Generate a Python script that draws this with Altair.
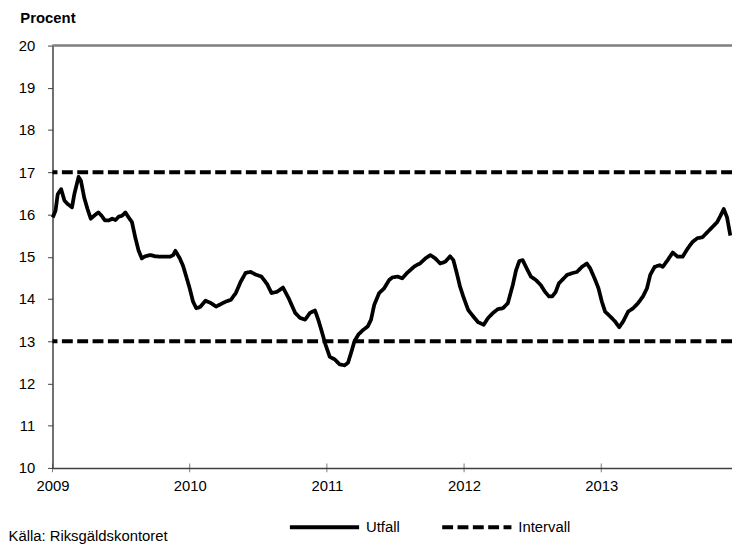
import altair as alt
import pandas as pd

# Utfall: share (procent); x as decimal year
years = [
    2009.002, 2009.022, 2009.038, 2009.063, 2009.087, 2009.110, 2009.142, 2009.159,
    2009.190, 2009.207, 2009.231, 2009.255, 2009.279, 2009.303, 2009.334, 2009.358,
    2009.382, 2009.411, 2009.435, 2009.459, 2009.483, 2009.507, 2009.531, 2009.555,
    2009.579, 2009.603, 2009.627, 2009.651, 2009.676, 2009.712, 2009.748, 2009.795,
    2009.856, 2009.880, 2009.896, 2009.928, 2009.952, 2009.975, 2010.000, 2010.024,
    2010.048, 2010.076, 2010.115, 2010.156, 2010.192, 2010.228, 2010.264, 2010.300,
    2010.336, 2010.372, 2010.408, 2010.444, 2010.480, 2010.523, 2010.565, 2010.596,
    2010.637, 2010.680, 2010.721, 2010.769, 2010.805, 2010.841, 2010.877, 2010.913,
    2010.937, 2010.961, 2010.990, 2011.021, 2011.057, 2011.093, 2011.129, 2011.154,
    2011.177, 2011.201, 2011.230, 2011.262, 2011.298, 2011.322, 2011.345, 2011.381,
    2011.417, 2011.454, 2011.478, 2011.514, 2011.550, 2011.586, 2011.634, 2011.682,
    2011.718, 2011.754, 2011.790, 2011.826, 2011.862, 2011.898, 2011.922, 2011.947,
    2011.970, 2011.994, 2012.030, 2012.066, 2012.102, 2012.143, 2012.175, 2012.211,
    2012.247, 2012.283, 2012.319, 2012.355, 2012.379, 2012.403, 2012.427, 2012.451,
    2012.487, 2012.523, 2012.559, 2012.590, 2012.619, 2012.643, 2012.668, 2012.691,
    2012.727, 2012.751, 2012.787, 2012.823, 2012.859, 2012.895, 2012.920, 2012.956,
    2012.980, 2013.004, 2013.028, 2013.064, 2013.100, 2013.131, 2013.160, 2013.196,
    2013.232, 2013.268, 2013.304, 2013.333, 2013.357, 2013.389, 2013.425, 2013.448,
    2013.484, 2013.521, 2013.557, 2013.593, 2013.629, 2013.665, 2013.701, 2013.737,
    2013.773, 2013.809, 2013.845, 2013.869, 2013.893, 2013.917, 2013.941,
]
utfall = [
    15.93, 16.09, 16.48, 16.60, 16.33, 16.25, 16.17, 16.48,
    16.89, 16.80, 16.40, 16.13, 15.90, 15.97, 16.05, 15.97,
    15.86, 15.86, 15.90, 15.87, 15.95, 15.97, 16.05, 15.93,
    15.82, 15.46, 15.15, 14.96, 15.01, 15.04, 15.01, 15.00,
    15.00, 15.04, 15.14, 14.96, 14.78, 14.53, 14.25, 13.94,
    13.78, 13.81, 13.96, 13.90, 13.82, 13.88, 13.94, 13.98,
    14.14, 14.41, 14.62, 14.64, 14.58, 14.53, 14.35, 14.14,
    14.17, 14.27, 14.02, 13.67, 13.55, 13.51, 13.67, 13.73,
    13.51, 13.25, 12.92, 12.63, 12.57, 12.45, 12.43, 12.49,
    12.73, 13.00, 13.16, 13.26, 13.35, 13.51, 13.86, 14.14,
    14.25, 14.45, 14.51, 14.53, 14.49, 14.62, 14.76, 14.85,
    14.96, 15.04, 14.96, 14.84, 14.88, 15.01, 14.92, 14.61,
    14.30, 14.06, 13.74, 13.59, 13.45, 13.39, 13.55, 13.67,
    13.76, 13.78, 13.90, 14.33, 14.68, 14.90, 14.92, 14.76,
    14.53, 14.45, 14.33, 14.17, 14.06, 14.06, 14.17, 14.37,
    14.49, 14.57, 14.61, 14.64, 14.76, 14.84, 14.72, 14.45,
    14.25, 13.94, 13.70, 13.59, 13.47, 13.33, 13.47, 13.70,
    13.78, 13.90, 14.06, 14.25, 14.57, 14.76, 14.80, 14.76,
    14.92, 15.10, 15.00, 15.00, 15.19, 15.35, 15.44, 15.46,
    15.58, 15.70, 15.82, 15.97, 16.13, 15.93, 15.50,
]
intervall = [17, 13]
tick_years = [2009, 2010, 2011, 2012, 2013]
y_ticks = [10, 11, 12, 13, 14, 15, 16, 17, 18, 19, 20]
series_names = ["Utfall", "Intervall"]

FONT = "Liberation Sans Narrow, Arial Narrow, Liberation Sans, Arial, sans-serif"
FS = 15
AXIS_COLOR = "#404040"

line_df = pd.DataFrame({"year": years, "value": utfall, "series": "Utfall"})
band_df = pd.DataFrame({"value": intervall, "series": "Intervall"})
tick_df = pd.DataFrame({"year": tick_years})

x_scale = alt.Scale(domain=[2009, 2013.953], nice=False, zero=False)
y_scale = alt.Scale(domain=[10, 20], nice=False, zero=False)

x_axis = alt.Axis(
    values=tick_years, format="d", ticks=False, grid=False,
    labelFlush=False, labelPadding=11, labelFontSize=FS, labelColor="black",
    domainColor=AXIS_COLOR, domainWidth=1.5,
    title="Källa: Riksgäldskontoret", titleFontSize=FS, titleFontWeight="normal",
    titleAlign="left", titleBaseline="alphabetic", titleX=-45, titleY=73,
    titleColor="black",
)
y_axis = alt.Axis(
    values=y_ticks, grid=False, tickSize=5, tickColor=AXIS_COLOR, tickWidth=1,
    labelPadding=13, labelFontSize=FS, labelColor="black",
    domainColor=AXIS_COLOR, domainWidth=1.5,
    title="Procent", titleAngle=0, titleFontSize=FS, titleFontWeight="bold",
    titleAlign="left", titleBaseline="alphabetic", titleX=-33, titleY=-23,
    titleColor="black",
)

legend = alt.Legend(
    orient="none", legendX=238, legendY=450, direction="horizontal", title=None,
    symbolType="stroke", symbolSize=4900, symbolStrokeWidth=4,
    labelFontSize=FS, labelColor="black", labelOffset=5, columnPadding=34,
)
color_enc = alt.Color("series:N", scale=alt.Scale(domain=series_names, range=["black", "black"]), legend=legend)
dash_enc = alt.StrokeDash("series:N", scale=alt.Scale(domain=series_names, range=[[1, 0], [11, 4.5]]), legend=legend)

x_enc = alt.X("year:Q", scale=x_scale, axis=x_axis)
y_enc = alt.Y("value:Q", scale=y_scale, axis=y_axis)

line = alt.Chart(line_df).mark_line(strokeWidth=3.8, strokeJoin="round").encode(
    x=x_enc, y=y_enc, color=color_enc, strokeDash=dash_enc
)
bands = alt.Chart(band_df).mark_rule(strokeWidth=4).encode(
    y=alt.Y("value:Q", scale=y_scale, axis=y_axis), color=color_enc, strokeDash=dash_enc
)
top_border = alt.Chart(tick_df).mark_rule(color="#808080", strokeWidth=1.5).encode(
    y=alt.datum(20)
)
x_ticks = alt.Chart(tick_df).mark_tick(orient="vertical", size=9, thickness=1, color=AXIS_COLOR).encode(
    x=x_enc, y=alt.datum(10)
)

chart = alt.layer(top_border, bands, line, x_ticks).properties(
    width=687, height=427,
    autosize=alt.AutoSizeParams(type="none"),
    padding={"left": 45, "top": 35, "right": 0, "bottom": 78},
).configure(font=FONT).configure_view(stroke=None)

chart.save("out.html", embed_options={"renderer": "svg", "actions": False})
